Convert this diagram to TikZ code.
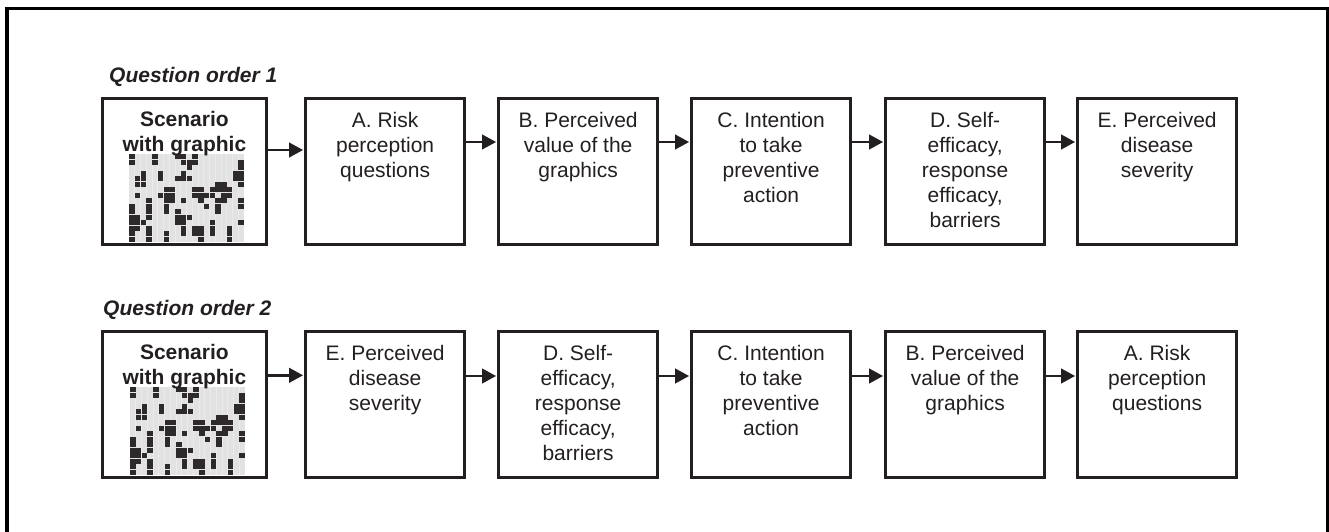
\documentclass[tikz,border=0pt]{standalone}
\usepackage{fontspec}
\setmainfont{Liberation Sans}
\usetikzlibrary{arrows.meta,calc}
\definecolor{ink}{HTML}{231F20}
\definecolor{pixbg}{HTML}{E2E2E2}
\tikzset{
  box/.style={draw=ink, line width=2.7pt, minimum width=159pt, minimum height=145.5pt, inner sep=0pt, anchor=north west},
  firstbox/.style={box, minimum width=163.5pt},
  boxtext/.style={anchor=north, align=center, inner sep=0pt, font=\fontsize{21}{25}\selectfont, text=ink},
  arr/.style={draw=ink, line width=2.5pt, shorten >=1.2pt, -{Triangle[length=14pt,width=14.5pt]}},
  qlabel/.style={anchor=base west, inner sep=0pt, text=ink, font=\fontsize{21}{25}\selectfont\bfseries\itshape},
  pix/.style={fill=ink!95, draw=none},
}
\newcommand{\pixgraphic}{%
  \fill[pixbg] (0,0) rectangle (115,88);
  \foreach \k in {1,...,19}{\draw[white!30!pixbg, line width=0.6pt] ({\k*5.75},0) -- ({\k*5.75},88);}
  \foreach \c/\r in {0/0,4/0,8/0,9/0,11/0,
    0/1,4/1,9/1,10/1,11/1,19/1,
    10/2,19/2,
    2/3,5/3,9/3,18/3,19/3,
    1/4,2/4,5/4,8/4,9/4,10/4,18/4,19/4,
    1/5,2/5,15/5,16/5,19/5,
    6/6,7/6,11/6,12/6,14/6,15/6,16/6,17/6,
    1/7,5/7,6/7,7/7,11/7,12/7,13/7,14/7,16/7,17/7,
    3/8,6/8,7/8,9/8,12/8,15/8,16/8,19/8,
    0/9,3/9,6/9,13/9,15/9,19/9,
    0/10,3/10,6/10,8/10,15/10,
    0/11,1/11,3/11,8/11,9/11,10/11,
    0/12,1/12,2/12,8/12,9/12,14/12,19/12,
    0/13,1/13,3/13,9/13,11/13,12/13,14/13,17/13,
    0/14,3/14,6/14,9/14,11/14,12/14,14/14,17/14,
    0/15,3/15,6/15,12/15,17/15}
    {\fill[pix] ({\c*5.75+0.2},{\r*5.5+0.2}) rectangle ({\c*5.75+5.55},{\r*5.5+5.3});}%
}
\begin{document}
\begin{tikzpicture}[x=1pt,y=-1pt]
\useasboundingbox (0,0) rectangle (1329,532);
% outer frame
\draw[line width=3.4pt, line join=miter] (7,545) -- (7,8.5) -- (1327.5,8.5) -- (1327.5,545);

% ---------- Row 1 ----------
\node[qlabel] (lab1) at (109,82.7) {Question order 1};
\node[firstbox] (p1) at (101.3,97.3) {};
\node[box] (p2) at (304.3,97.3) {};
\node[box] (p3) at (497.3,97.3) {};
\node[box] (p4) at (690.3,97.3) {};
\node[box] (p5) at (884.3,97.3) {};
\node[box] (p6) at (1076.3,97.3) {};

\begin{scope}[shift={(129,154)}]\pixgraphic\end{scope}

\node[boxtext, font=\fontsize{21}{25}\selectfont\bfseries] (p1t) at ([yshift=-14pt]p1.north) {Scenario\\with graphic};
\node[boxtext] (p2t) at ([yshift=-15pt]p2.north) {A. Risk\\perception\\questions};
\node[boxtext] (p3t) at ([yshift=-15pt]p3.north) {B. Perceived\\value of the\\graphics};
\node[boxtext] (p4t) at ([yshift=-15pt]p4.north) {C. Intention\\to take\\preventive\\action};
\node[boxtext] (p5t) at ([yshift=-15pt]p5.north) {D. Self-\\efficacy,\\response\\efficacy,\\barriers};
\node[boxtext] (p6t) at ([yshift=-15pt]p6.north) {E. Perceived\\disease\\severity};

\draw[arr] ([yshift=-52.7pt]p1.north east) -- ([yshift=-52.7pt]p2.north west);
\draw[arr] ([yshift=-44.7pt]p2.north east) -- ([yshift=-44.7pt]p3.north west);
\draw[arr] ([yshift=-44.7pt]p3.north east) -- ([yshift=-44.7pt]p4.north west);
\draw[arr] ([yshift=-44.7pt]p4.north east) -- ([yshift=-44.7pt]p5.north west);
\draw[arr] ([yshift=-44.7pt]p5.north east) -- ([yshift=-44.7pt]p6.north west);

% ---------- Row 2 ----------
\node[qlabel] (lab2) at (103,315) {Question order 2};
\node[firstbox] (q1) at (101.3,330.3) {};
\node[box] (q2) at (304.3,330.3) {};
\node[box] (q3) at (497.3,330.3) {};
\node[box] (q4) at (690.3,330.3) {};
\node[box] (q5) at (884.3,330.3) {};
\node[box] (q6) at (1076.3,330.3) {};

\begin{scope}[shift={(130,387)}]\pixgraphic\end{scope}

\node[boxtext, font=\fontsize{21}{25}\selectfont\bfseries] (q1t) at ([yshift=-14pt]q1.north) {Scenario\\with graphic};
\node[boxtext] (q2t) at ([yshift=-15pt]q2.north) {E. Perceived\\disease\\severity};
\node[boxtext] (q3t) at ([yshift=-15pt]q3.north) {D. Self-\\efficacy,\\response\\efficacy,\\barriers};
\node[boxtext] (q4t) at ([yshift=-15pt]q4.north) {C. Intention\\to take\\preventive\\action};
\node[boxtext] (q5t) at ([yshift=-15pt]q5.north) {B. Perceived\\value of the\\graphics};
\node[boxtext] (q6t) at ([yshift=-15pt]q6.north) {A. Risk\\perception\\questions};

\draw[arr] ([yshift=-45pt]q1.north east) -- ([yshift=-45pt]q2.north west);
\draw[arr] ([yshift=-45.7pt]q2.north east) -- ([yshift=-45.7pt]q3.north west);
\draw[arr] ([yshift=-45.7pt]q3.north east) -- ([yshift=-45.7pt]q4.north west);
\draw[arr] ([yshift=-45.7pt]q4.north east) -- ([yshift=-45.7pt]q5.north west);
\draw[arr] ([yshift=-45.7pt]q5.north east) -- ([yshift=-45.7pt]q6.north west);
\end{tikzpicture}
\end{document}
